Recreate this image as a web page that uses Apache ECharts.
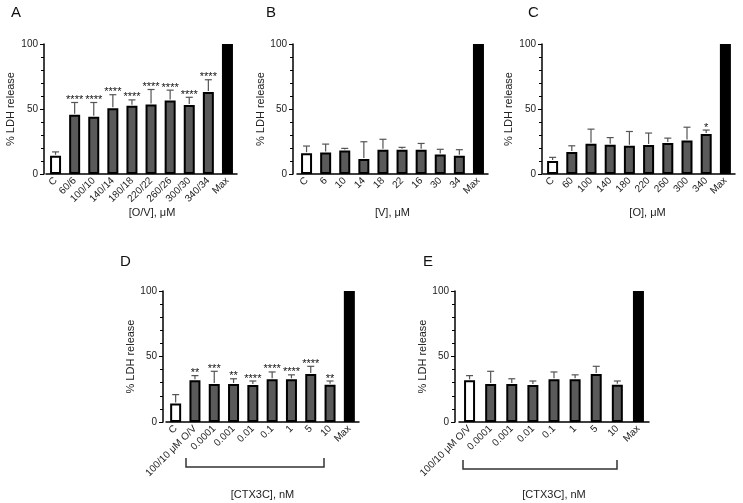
<!DOCTYPE html>
<html>
<head>
<meta charset="utf-8">
<script src="https://cdn.jsdelivr.net/npm/echarts@6/dist/echarts.min.js"></script>
<style>html,body{margin:0;padding:0;background:#fff}#c{width:743px;height:503px}</style>
</head>
<body>
<div id="c"></div>
<script>
// ---- data ----
const catsA = ['C','60/6','100/10','140/14','180/18','220/22','260/26','300/30','340/34','Max'];
const meanA = [14, 45.5, 44, 50.5, 52.5, 53.5, 56.5, 53, 63, 100];
const sdA   = [3, 9.5, 11, 10.5, 4.5, 11.5, 8, 6, 9.5, 0];
const sigA  = ['', '****','****','****','****','****','****','****','****',''];

const catsB = ['C','6','10','14','18','22','16','30','34','Max'];
const meanB = [16, 16.5, 18, 11.5, 18.7, 18.7, 18.7, 15, 14, 100];
const sdB   = [5.5, 6.5, 1.7, 13.3, 8, 1.8, 4.8, 4, 4.7, 0];
const sigB  = ['', '', '', '', '', '', '', '', '', ''];

const catsC = ['C','60','100','140','180','220','260','300','340','Max'];
const meanC = [10, 17, 23.3, 22.5, 21.7, 22.3, 23.8, 25.8, 30.7, 100];
const sdC   = [2.8, 4.7, 11.2, 5.5, 11, 9.2, 3.8, 10.2, 3.1, 0];
const sigC  = ['', '', '', '', '', '', '', '', '*', ''];

const catsD = ['C','100/10 μM O/V','0.0001','0.001','0.01','0.1','1','5','10','Max'];
const meanD = [14.2, 31.8, 29, 29, 28.2, 32.6, 32.6, 36.6, 28.5, 100];
const sdD   = [6.7, 3.6, 9.7, 4, 3.1, 5.6, 3.4, 5.9, 2.8, 0];
const sigD  = ['', '**','***','**','****','****','****','****','**',''];

const catsE = ['100/10 μM O/V','0.0001','0.001','0.01','0.1','1','5','10','Max'];
const meanE = [31.8, 29, 29, 28.2, 32.6, 32.6, 36.6, 28.5, 100];
const sdE   = [3.6, 9.7, 4, 3.1, 5.6, 3.4, 5.9, 2.8, 0];
const sigE  = ['', '', '', '', '', '', '', '', ''];

const yTicks = [0, 50, 100];
const xNames = ['[O/V], μM', '[V], μM', '[O], μM', '[CTX3C], nM', '[CTX3C], nM'];
const panelLetters = ['A','B','C','D','E'];
const yName = '% LDH release';

// ---- layout ----
const FONT = "'Liberation Sans', Arial, sans-serif";
const panels = [
  {cats: catsA, mean: meanA, sd: sdA, sig: sigA, grid: {left: 46, top: 44, width: 191, height: 130}, off: 2, nameGap: 33, namePad: 21, yGap: 28},
  {cats: catsB, mean: meanB, sd: sdB, sig: sigB, grid: {left: 297, top: 44, width: 191, height: 130}, off: 4, nameGap: 33, namePad: 0, yGap: 27},
  {cats: catsC, mean: meanC, sd: sdC, sig: sigC, grid: {left: 543, top: 44, width: 192, height: 130}, off: 1, nameGap: 33, namePad: 17, yGap: 28},
  {cats: catsD, mean: meanD, sd: sdD, sig: sigD, grid: {left: 166, top: 291, width: 193, height: 131}, off: 3, nameGap: 67, namePad: 0, yGap: 27},
  {cats: catsE, mean: meanE, sd: sdE, sig: sigE, grid: {left: 459, top: 291, width: 190, height: 131}, off: 4, nameGap: 67, namePad: 0, yGap: 26}
];

const grids = [], xAxes = [], yAxes = [], series = [];
panels.forEach((p, k) => {
  grids.push(p.grid);
  xAxes.push({
    type: 'category', gridIndex: k, data: p.cats,
    axisLine: {show: true, lineStyle: {color: '#000', width: 1.5}},
    axisTick: {show: false},
    axisLabel: {rotate: 45, interval: 0, fontSize: 10, margin: 5, color: '#222', fontFamily: FONT},
    name: xNames[k], nameLocation: 'middle', nameGap: p.nameGap,
    nameTextStyle: {fontSize: 11, color: '#222', fontFamily: FONT, padding: [0, 0, 0, p.namePad]}
  });
  yAxes.push({
    type: 'value', gridIndex: k, min: 0, max: 100, interval: 50, offset: p.off,
    axisLine: {show: true, lineStyle: {color: '#000', width: 1.5}},
    axisTick: {show: true, length: 4, lineStyle: {color: '#000', width: 1}},
    minorTick: {show: true, splitNumber: 5, length: 3, lineStyle: {color: '#000', width: 1}},
    splitLine: {show: false},
    axisLabel: {fontSize: 10, margin: 6, color: '#222', fontFamily: FONT,
      formatter: v => yTicks.indexOf(v) >= 0 ? String(v) : ''},
    name: yName, nameLocation: 'middle', nameGap: p.yGap, nameRotate: 90,
    nameTextStyle: {fontSize: 11, color: '#222', fontFamily: FONT}
  });
  series.push({
    type: 'bar', xAxisIndex: k, yAxisIndex: k, barWidth: 11,
    data: p.mean.map((v, i) => ({
      value: v,
      itemStyle: {
        color: p.cats[i] === 'Max' ? '#000' : (i === 0 ? '#fff' : '#5a5a5a'),
        borderColor: '#000', borderWidth: 2
      }
    })),
    animation: false
  });
  series.push({
    type: 'custom', xAxisIndex: k, yAxisIndex: k, z: 5,
    data: p.mean.map((v, i) => [i, v, p.sd[i]]),
    renderItem: (params, api) => {
      const i = api.value(0), m = api.value(1), s = api.value(2);
      const base = api.coord([i, m]);
      const top = api.coord([i, m + s]);
      const children = [];
      if (s > 0) {
        children.push({type: 'line', shape: {x1: base[0], y1: base[1] - 1, x2: top[0], y2: top[1]},
          style: {stroke: '#555', lineWidth: 1.2}});
        children.push({type: 'line', shape: {x1: top[0] - 3.5, y1: top[1], x2: top[0] + 3.5, y2: top[1]},
          style: {stroke: '#555', lineWidth: 1.2}});
      }
      const sg = p.sig[params.dataIndex];
      if (sg) {
        children.push({type: 'text', x: top[0], y: top[1] - 2.5,
          style: {text: sg, fontSize: 11, fontFamily: FONT, fill: '#111', align: 'center', verticalAlign: 'middle'}});
      }
      return {type: 'group', children};
    },
    animation: false
  });
});

const letterPos = [[11, 13], [266, 13], [528, 13], [120, 262], [423, 262]];
const graphic = panelLetters.map((t, i) => ({
  type: 'text', x: letterPos[i][0], y: letterPos[i][1],
  style: {text: t, fontSize: 15, fontFamily: FONT, fill: '#111', verticalAlign: 'middle'}
}));
// brackets under D and E
const brackets = [[186, 324, 467, 458], [463, 617, 469, 460]];
brackets.forEach(b => {
  graphic.push({type: 'polyline', shape: {points: [[b[0], b[3]], [b[0], b[2]], [b[1], b[2]], [b[1], b[3]]]},
    style: {stroke: '#333', lineWidth: 1.5, fill: null}});
});

const chart = echarts.init(document.getElementById('c'), null, {renderer: 'canvas'});
chart.setOption({
  animation: false,
  backgroundColor: '#fff',
  grid: grids, xAxis: xAxes, yAxis: yAxes, series, graphic
});
</script>
</body>
</html>
